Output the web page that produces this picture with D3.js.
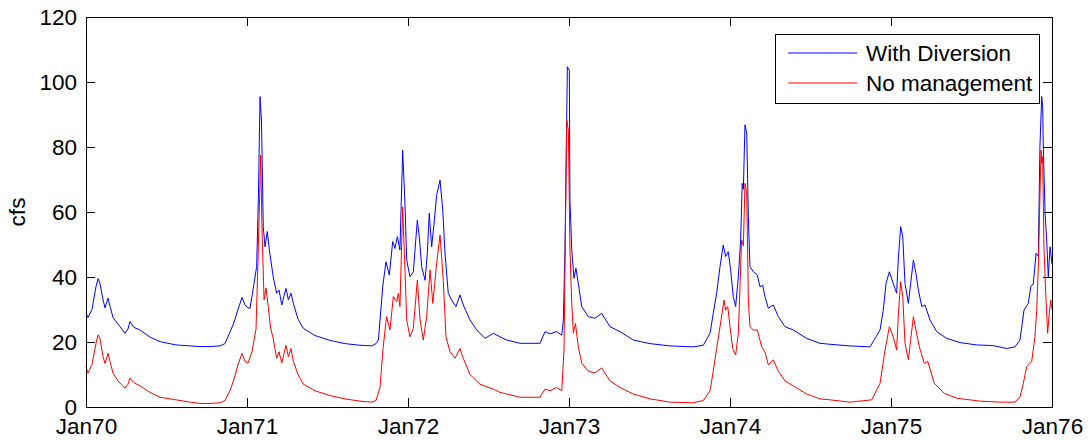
<!DOCTYPE html>
<html>
<head>
<meta charset="utf-8">
<script src="https://cdn.jsdelivr.net/npm/d3@7"></script>
<style>
  body { margin: 0; background: #fff; }
  svg { display: block; font-family: "Liberation Sans", Arial, sans-serif; }
</style>
</head>
<body>
<div id="chart"></div>
<script>
// years since Jan 1970, flow in cfs
const withDiversion = [
  [0.000, 29], [0.012, 27.5], [0.037, 30], [0.062, 37], [0.075, 39.5], [0.087, 38],
  [0.106, 33], [0.118, 30.5], [0.137, 33.5], [0.149, 31], [0.168, 27.5], [0.199, 25.5],
  [0.242, 22.7], [0.261, 24], [0.273, 26.3], [0.298, 24.5], [0.335, 23.7], [0.398, 21.5],
  [0.460, 20.1], [0.559, 19.1], [0.646, 18.8], [0.708, 18.6], [0.770, 18.6], [0.832, 18.8],
  [0.863, 19.5], [0.894, 23], [0.919, 26], [0.944, 30], [0.969, 33.7], [0.988, 31.4],
  [1.006, 30.5], [1.019, 30.4], [1.037, 36], [1.060, 43.2], [1.071, 65], [1.081, 95.5],
  [1.090, 88], [1.101, 55.5], [1.112, 49.3], [1.126, 54], [1.139, 48.3], [1.163, 40],
  [1.184, 35], [1.199, 36], [1.216, 31.4], [1.242, 36.5], [1.257, 33], [1.273, 35],
  [1.288, 31.9], [1.317, 27], [1.350, 24.2], [1.422, 22], [1.516, 20.5], [1.609, 19.5],
  [1.702, 19], [1.776, 18.8], [1.801, 19.5], [1.816, 20.6], [1.843, 37], [1.863, 44.7],
  [1.884, 40.6], [1.905, 50.9], [1.919, 48.8], [1.934, 52.4], [1.950, 48.3], [1.967, 79],
  [1.981, 62.7], [1.992, 45.2], [2.012, 40.1], [2.033, 41.6], [2.058, 57.5], [2.070, 52.4],
  [2.085, 43.2], [2.106, 39], [2.120, 47.3], [2.132, 59.6], [2.147, 49.3], [2.161, 56],
  [2.178, 65.2], [2.199, 69.8], [2.216, 60.6], [2.230, 47.3], [2.250, 35], [2.271, 32.9],
  [2.298, 30.9], [2.323, 34.5], [2.343, 31.4], [2.385, 26.8], [2.427, 23.7], [2.478, 21.1],
  [2.530, 22.7], [2.571, 21.6], [2.613, 20.6], [2.696, 19.6], [2.820, 19.6], [2.851, 23.2],
  [2.882, 22.5], [2.923, 23.2], [2.955, 22.1], [2.965, 26.8], [2.975, 48.3], [2.990, 104.7],
  [3.002, 103.5], [3.006, 63.7], [3.017, 48.3], [3.031, 39.6], [3.043, 42.7], [3.058, 38],
  [3.079, 30.9], [3.120, 27.8], [3.161, 27.3], [3.203, 28.8], [3.255, 24.7], [3.317, 23.2],
  [3.399, 20.6], [3.503, 19.5], [3.627, 18.8], [3.770, 18.5], [3.834, 19], [3.876, 22.7],
  [3.896, 28.8], [3.917, 35], [3.938, 43.2], [3.958, 49.8], [3.973, 46.3], [3.989, 47.8],
  [4.004, 42.2], [4.020, 34], [4.035, 30.9], [4.052, 40.1], [4.066, 51.4], [4.076, 68.8],
  [4.083, 67], [4.093, 86.8], [4.104, 84.2], [4.114, 58.6], [4.124, 43.2], [4.145, 41.6],
  [4.170, 40.6], [4.186, 37], [4.203, 37.5], [4.217, 34], [4.238, 30.4], [4.269, 31.4],
  [4.300, 27.8], [4.342, 24.7], [4.393, 23.7], [4.476, 21.1], [4.559, 19.6], [4.621, 19.3],
  [4.745, 18.8], [4.870, 18.5], [4.901, 21.1], [4.932, 23.7], [4.952, 29.8], [4.969, 38],
  [4.990, 41.6], [5.014, 38], [5.035, 35], [5.045, 45.2], [5.060, 55.5], [5.073, 52.4],
  [5.087, 38], [5.108, 31.9], [5.122, 38], [5.139, 45.2], [5.155, 41.1], [5.170, 36],
  [5.191, 30.9], [5.211, 31.4], [5.242, 26.8], [5.284, 23.2], [5.346, 21.1], [5.429, 19.8],
  [5.532, 19.1], [5.635, 18.9], [5.718, 18], [5.770, 18.5], [5.801, 20.6], [5.826, 29.8],
  [5.853, 31.9], [5.868, 37], [5.884, 38], [5.901, 47.3], [5.915, 46.3], [5.925, 80],
  [5.936, 95.5], [5.942, 92.4], [5.946, 80], [5.957, 59.6], [5.967, 51.4], [5.977, 40.1],
  [5.988, 49.3], [6.000, 44]
];

const noManagement = [
  [0.000, 12.4], [0.012, 10.4], [0.037, 13], [0.062, 19.5], [0.075, 22.2], [0.087, 21],
  [0.106, 15.5], [0.118, 13.4], [0.137, 16.5], [0.149, 14], [0.168, 10.4], [0.199, 8],
  [0.242, 5.8], [0.261, 7], [0.273, 8.9], [0.298, 7.5], [0.335, 6.5], [0.398, 4.5],
  [0.460, 3], [0.559, 2.2], [0.646, 1.5], [0.708, 1.1], [0.770, 1.1], [0.832, 1.3],
  [0.863, 2], [0.894, 5], [0.919, 8.5], [0.944, 13], [0.969, 16.5], [0.988, 14],
  [1.006, 13.5], [1.031, 17], [1.056, 24], [1.071, 50], [1.085, 77.5], [1.093, 55],
  [1.106, 33], [1.118, 36.6], [1.132, 30.9], [1.147, 24.3], [1.163, 21], [1.184, 15],
  [1.199, 17], [1.216, 13.5], [1.242, 19], [1.257, 15.5], [1.273, 18], [1.288, 14],
  [1.317, 10], [1.350, 7], [1.422, 5], [1.516, 3.5], [1.609, 2.5], [1.702, 1.8],
  [1.776, 1.5], [1.801, 2], [1.826, 6], [1.845, 18], [1.867, 27.8], [1.888, 23.7],
  [1.909, 34], [1.930, 32.4], [1.940, 35], [1.950, 30.9], [1.967, 61.6], [1.981, 42.2],
  [1.992, 26.8], [2.012, 21.6], [2.033, 24.2], [2.058, 39], [2.075, 26.8], [2.095, 20.6],
  [2.116, 27.8], [2.137, 42.2], [2.154, 31.9], [2.178, 44.2], [2.199, 52.9], [2.219, 39],
  [2.236, 21.6], [2.261, 17], [2.292, 15], [2.323, 18], [2.343, 15], [2.385, 10],
  [2.447, 7], [2.530, 5.5], [2.571, 4.5], [2.696, 3], [2.820, 3], [2.851, 5.5],
  [2.882, 5], [2.923, 6], [2.955, 5], [2.969, 17.5], [2.986, 88.3], [2.996, 85.2],
  [3.006, 48.3], [3.017, 31.9], [3.027, 22.7], [3.040, 25.7], [3.058, 18.5], [3.079, 13.5],
  [3.120, 11], [3.161, 10.5], [3.203, 12], [3.255, 8], [3.317, 6], [3.399, 4],
  [3.503, 2.5], [3.627, 1.5], [3.770, 1.3], [3.834, 2], [3.876, 5], [3.896, 11],
  [3.917, 18], [3.938, 24.7], [3.963, 32.9], [3.973, 29.8], [3.986, 30.9], [4.000, 24.7],
  [4.017, 18], [4.035, 16], [4.052, 22.7], [4.072, 51.4], [4.083, 49.6], [4.093, 68.8],
  [4.104, 65.7], [4.114, 32.9], [4.124, 24.7], [4.145, 23.7], [4.170, 23.7], [4.197, 18.5],
  [4.217, 17], [4.238, 13], [4.269, 14.5], [4.300, 11], [4.342, 8], [4.393, 6.5],
  [4.476, 4], [4.559, 2.5], [4.621, 2.2], [4.745, 1.5], [4.880, 2.2], [4.932, 7.3],
  [4.963, 17.5], [4.990, 24.7], [5.014, 21.6], [5.035, 17.5], [5.045, 27.8], [5.060, 38.6],
  [5.073, 34], [5.087, 19.6], [5.108, 14.5], [5.122, 20.6], [5.139, 27.8], [5.155, 23.7],
  [5.176, 18.5], [5.207, 13.4], [5.228, 14], [5.269, 7.3], [5.331, 4.2], [5.408, 2.7],
  [5.553, 1.8], [5.677, 1.5], [5.770, 1.5], [5.801, 3], [5.822, 7.3], [5.843, 12.4],
  [5.874, 14], [5.894, 21.6], [5.905, 29.8], [5.915, 43.2], [5.925, 64.7], [5.932, 79],
  [5.936, 75], [5.942, 77], [5.950, 49.3], [5.961, 35], [5.973, 22.7], [5.983, 28.8],
  [5.992, 32.9], [6.000, 30]
];

const xTickLabels = ['Jan70', 'Jan71', 'Jan72', 'Jan73', 'Jan74', 'Jan75', 'Jan76'];
const yTicks = [0, 20, 40, 60, 80, 100, 120];
const seriesNames = ['With Diversion', 'No management'];
const seriesColors = ['#0000ff', '#ff0000'];

const width = 1092, height = 440;
const margin = { top: 17, right: 40, bottom: 33, left: 86 };
const w = width - margin.left - margin.right;
const h = height - margin.top - margin.bottom;
const tick = 9;
const fontSize = '22.5px';

const svg = d3.select('#chart').append('svg')
  .attr('width', width)
  .attr('height', height);

const g = svg.append('g')
  .attr('transform', `translate(${margin.left},${margin.top})`);

const x = d3.scaleLinear().domain([0, 6]).range([0, w]);
const y = d3.scaleLinear().domain([0, 120]).range([h, 0]);

const styleAxis = sel => {
  sel.select('.domain').remove();
  sel.selectAll('line').attr('stroke', '#000');
  sel.selectAll('text').attr('fill', '#000').style('font-size', fontSize);
};

g.append('g')
  .attr('transform', `translate(0,${h})`)
  .call(d3.axisBottom(x).tickValues(d3.range(7)).tickFormat(i => xTickLabels[i])
    .tickSizeInner(-tick).tickSizeOuter(0).tickPadding(11))
  .call(styleAxis);
g.append('g')
  .call(d3.axisTop(x).tickValues(d3.range(7)).tickFormat('')
    .tickSizeInner(-tick).tickSizeOuter(0))
  .call(styleAxis);
g.append('g')
  .call(d3.axisLeft(y).tickValues(yTicks)
    .tickSizeInner(-tick).tickSizeOuter(0).tickPadding(9))
  .call(styleAxis);
g.append('g')
  .attr('transform', `translate(${w},0)`)
  .call(d3.axisRight(y).tickValues(yTicks).tickFormat('')
    .tickSizeInner(-tick).tickSizeOuter(0))
  .call(styleAxis);

const line = d3.line()
  .x(d => x(d[0]))
  .y(d => y(d[1]));

[withDiversion, noManagement].forEach((data, i) => {
  g.append('path')
    .datum(data)
    .attr('fill', 'none')
    .attr('stroke', seriesColors[i])
    .attr('stroke-width', 1)
    .attr('stroke-linejoin', 'round')
    .attr('d', line);
});

g.append('rect')
  .attr('x', 0.5).attr('y', 0.5)
  .attr('width', w).attr('height', h)
  .attr('fill', 'none')
  .attr('stroke', '#000')
  .attr('stroke-width', 1);

svg.append('text')
  .attr('transform', `translate(25,${margin.top + h / 2}) rotate(-90)`)
  .attr('text-anchor', 'middle')
  .style('font-size', fontSize)
  .text('cfs');

// legend
const legend = svg.append('g').attr('transform', 'translate(775,34)');
legend.append('rect')
  .attr('x', 0.5).attr('y', 0.5)
  .attr('width', 264).attr('height', 69)
  .attr('fill', '#fff')
  .attr('stroke', '#000');
seriesNames.forEach((name, i) => {
  const ly = 19 + i * 30;
  legend.append('line')
    .attr('x1', 13).attr('x2', 82)
    .attr('y1', ly).attr('y2', ly)
    .attr('stroke', seriesColors[i]);
  legend.append('text')
    .attr('x', 91).attr('y', ly)
    .attr('dy', '0.35em')
    .style('font-size', fontSize)
    .text(name);
});
</script>
</body>
</html>
